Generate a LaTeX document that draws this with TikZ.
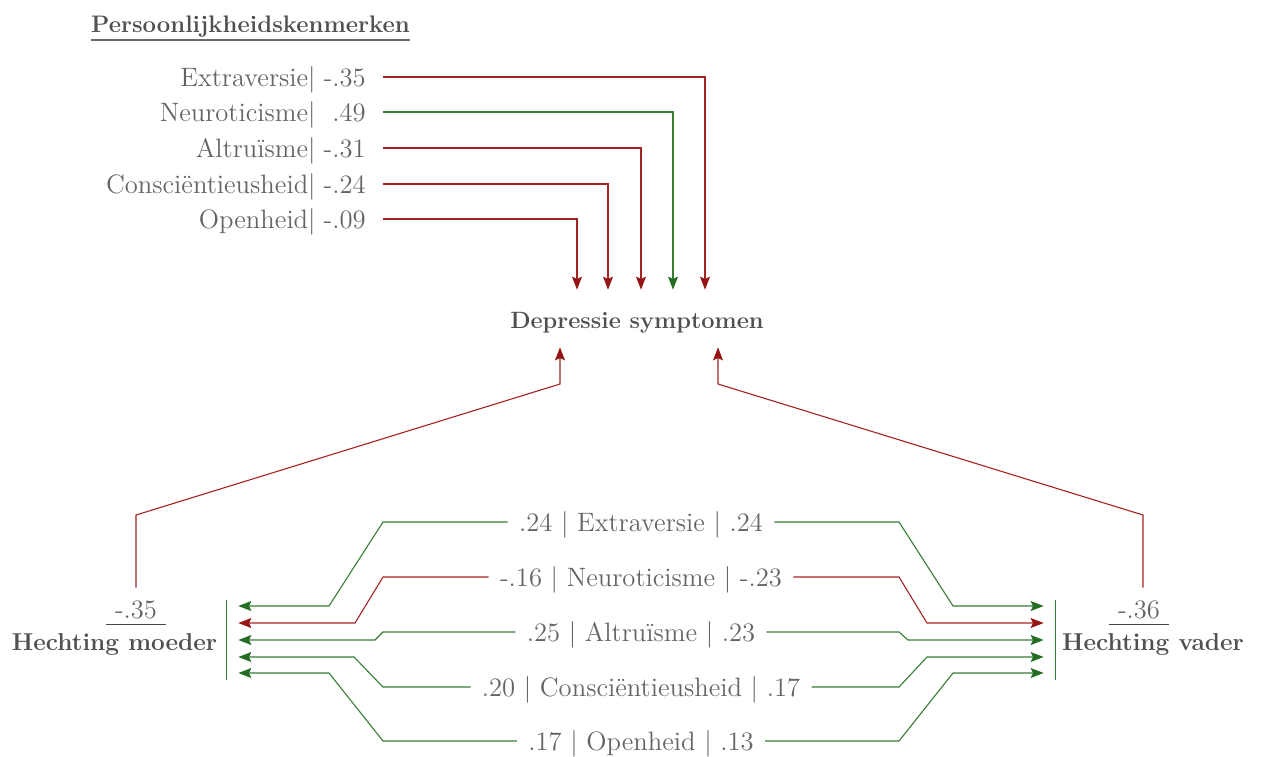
\documentclass[tikz,border=0pt]{standalone}
\usepackage{fontspec}
\usetikzlibrary{arrows.meta}
\definecolor{myred}{RGB}{165,35,35}
\definecolor{myredtip}{RGB}{150,20,20}
\definecolor{mygreen}{RGB}{55,125,50}
\definecolor{mygreentip}{RGB}{35,110,35}
\definecolor{txtgray}{RGB}{100,100,100}
\definecolor{boldgray}{RGB}{80,80,80}
\definecolor{bargray}{RGB}{70,70,70}
\begin{document}
\begin{tikzpicture}[x=0.5pt,y=-0.5pt,
  txt/.style={text=txtgray, font=\fontsize{13.3}{15}\selectfont, text height=12pt, text depth=3pt},
  boldtxt/.style={text=boldgray, font=\fontsize{12.2}{14}\selectfont\bfseries},
  redl/.style={draw=myred, line width=0.55pt},
  grnl/.style={draw=mygreen, line width=0.55pt},
  redarr/.style={redl, -{Stealth[length=6.5pt,width=5pt,inset=1.2pt,color=myredtip]}},
  grnarr/.style={grnl, -{Stealth[length=6.5pt,width=5pt,inset=1.2pt,color=mygreentip]}},
  pers/.style={txt, anchor=east, inner xsep=8.5pt},
  mid/.style={txt, inner xsep=5.5pt},
  frac/.style={txt, anchor=base, text depth=0pt, inner ysep=3pt, inner xsep=0pt, minimum width=30pt},
  fracbar/.style={draw=bargray, line width=0.75pt},
  barbox/.style={inner sep=0pt, minimum width=5.5pt, minimum height=40pt}
]
\useasboundingbox (0,0) rectangle (1261,756);

% title
\node[font=\fontsize{11.95}{14}\selectfont\bfseries, text=boldgray, anchor=base,
      inner xsep=0pt, text depth=0pt, inner ysep=4pt] (title) at (250.5,32) {Persoonlijkheidskenmerken};
\draw[draw=bargray!80, line width=1pt] (title.south west) -- (title.south east);

% target
\node[font=\fontsize{11.8}{14}\selectfont\bfseries, text=boldgray, text height=10pt,
      text depth=0pt, inner ysep=9.25pt] (dep) at (637,318.5) {Depressie symptomen};

% personality traits
\node[pers] (pE) at (383,77)  {Extraversie|\makebox[25pt][r]{-.35}};
\node[pers] (pN) at (383,112) {Neuroticisme|\makebox[25pt][r]{.49}};
\node[pers] (pA) at (383,148) {Altruïsme|\makebox[25pt][r]{-.31}};
\node[pers] (pC) at (383,184) {Consciëntieusheid|\makebox[25pt][r]{-.24}};
\node[pers] (pO) at (383,219) {Openheid|\makebox[25pt][r]{-.09}};

\draw[redarr] (pE.east) -| (dep.north -| 705,0);
\draw[grnarr] (pN.east) -| (dep.north -| 673,0);
\draw[redarr] (pA.east) -| (dep.north -| 641,0);
\draw[redarr] (pC.east) -| (dep.north -| 608,0);
\draw[redarr] (pO.east) -| (dep.north -| 577,0);

% attachment nodes
\node[boldtxt, anchor=base] (hm) at (114.5,650) {Hechting moeder};
\node[frac] (m35) at (136,618) {-.35};
\draw[fracbar] (m35.south west) -- (m35.south east);
\node[boldtxt, anchor=base] (hv) at (1153,650) {Hechting vader};
\node[frac] (m36) at (1139,618) {-.36};
\draw[fracbar] (m36.south west) -- (m36.south east);

\draw[redarr] (m35.north) -- (136,515) -- (560,384) -- (dep.south -| 560,0);
\draw[redarr] (m36.north -| 1143,0) -- (1143,515) -- (718,384) -- (dep.south -| 718,0);

% bars
\node[barbox] (lbar) at (232.5,640) {};
\node[barbox] (rbar) at (1049.5,640) {};
\draw[grnl] (lbar.north west) -- (lbar.south west);
\draw[grnl] (rbar.north east) -- (rbar.south east);

% middle labels
\node[mid] (c1) at (641,522) {.24 | Extraversie | .24};
\node[mid] (c2) at (641,577) {-.16 | Neuroticisme | -.23};
\node[mid] (c3) at (641,632) {.25 | Altruïsme | .23};
\node[mid] (c4) at (641,687) {.20 | Consciëntieusheid | .17};
\node[mid] (c5) at (641,741) {.17 | Openheid | .13};

% left
\draw[grnarr] (c1.west) -- (383,522) -- (329,606) -- (lbar.east |- 0,606);
\draw[redarr] (c2.west) -- (383,577) -- (355,623) -- (lbar.east |- 0,623);
\draw[grnarr] (c3.west) -- (383,632) -- (375,640) -- (lbar.east |- 0,640);
\draw[grnarr] (c4.west) -- (383,687) -- (354,657) -- (lbar.east |- 0,657);
\draw[grnarr] (c5.west) -- (383,741) -- (329,673) -- (lbar.east |- 0,673);
% right
\draw[grnarr] (c1.east) -- (899,522) -- (953,606) -- (rbar.west |- 0,606);
\draw[redarr] (c2.east) -- (899,577) -- (927,623) -- (rbar.west |- 0,623);
\draw[grnarr] (c3.east) -- (899,632) -- (908,640) -- (rbar.west |- 0,640);
\draw[grnarr] (c4.east) -- (899,687) -- (927,657) -- (rbar.west |- 0,657);
\draw[grnarr] (c5.east) -- (899,741) -- (953,673) -- (rbar.west |- 0,673);
\end{tikzpicture}
\end{document}
